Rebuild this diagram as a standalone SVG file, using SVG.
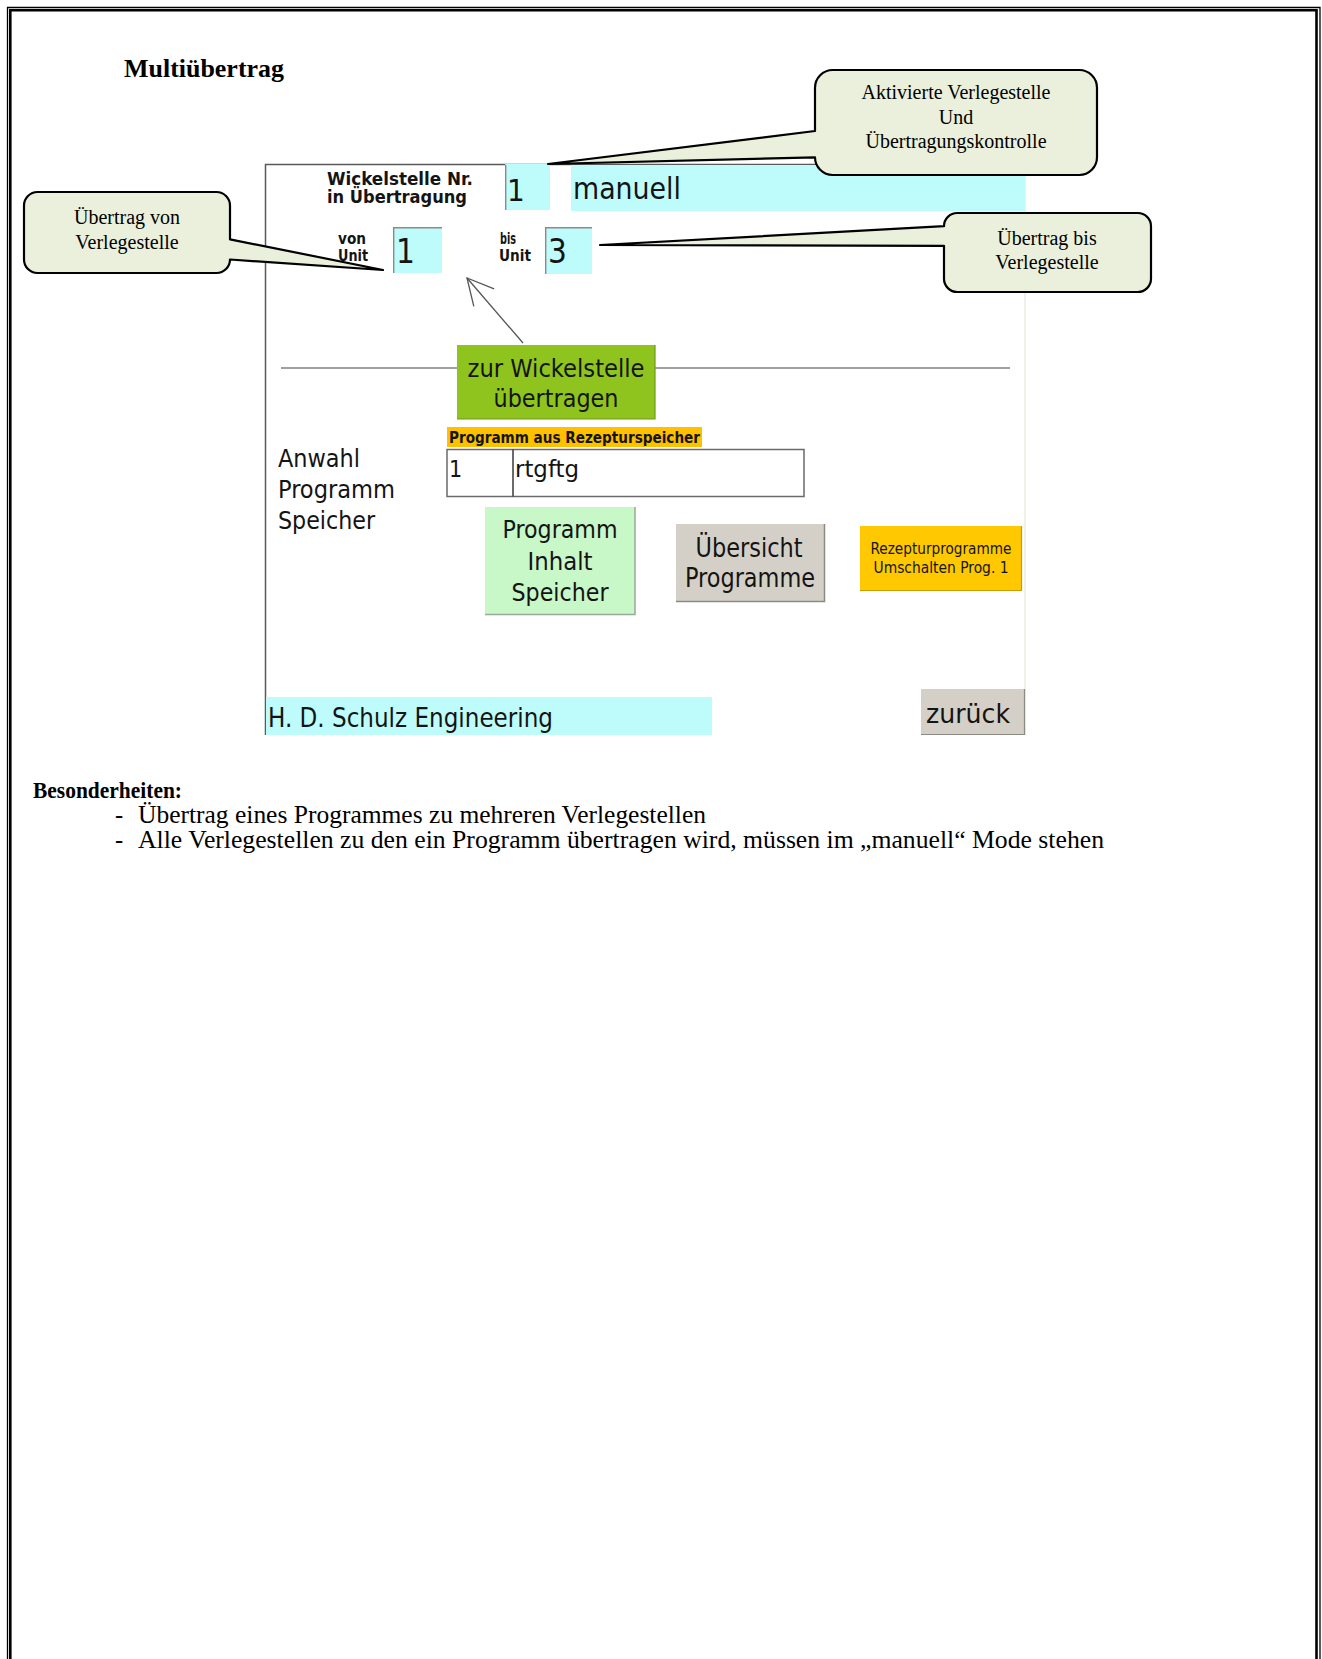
<svg xmlns="http://www.w3.org/2000/svg" width="1322" height="1659" viewBox="0 0 1322 1659">
  <defs>
    <style>
      .serif { font-family: "Liberation Serif", "Times New Roman", serif; fill: #000; }
      .hmi { font-family: "DejaVu Sans Condensed", "DejaVu Sans", Tahoma, Verdana, sans-serif; fill: #141414; }
      .b { font-weight: bold; }
      .mid { text-anchor: middle; }
      .callout { fill: #EAF0DC; stroke: #000; stroke-width: 2.2; stroke-linejoin: round; }
      .cyan { fill: #BEFCFC; }
      .inset { stroke: #8a8a8a; stroke-width: 1.4; fill: none; }
    </style>
    <!-- open V arrowhead used by the screen pointer -->
    <marker id="open-head" markerUnits="userSpaceOnUse" markerWidth="40" markerHeight="40"
            viewBox="-30 -20 40 40" refX="0" refY="0" orient="auto" overflow="visible">
      <path d="M-26,-13.4 L0,0 L-26,13.4" fill="none" stroke="#555" stroke-width="1.3"/>
    </marker>
  </defs>

  <rect width="1322" height="1659" fill="#fff"/>

  <!-- double page frame (open at the bottom) -->
  <g id="page-frame" fill="none" stroke="#000">
    <path d="M7.5,1659 V7.5 H1320 V1659" stroke-width="1.3"/>
    <path d="M10.3,1659 V10.3 H1316.5 V1659" stroke-width="2.6"/>
  </g>

  <text id="title" class="serif b" x="124" y="77" font-size="25" textLength="160" lengthAdjust="spacingAndGlyphs">Multiübertrag</text>

  <!-- operator panel screenshot -->
  <g id="panel">
    <rect x="265" y="164" width="760" height="571" fill="#fff"/>
    <path d="M265.5,735 V164.5 H1025" fill="none" stroke="#5a5a5a" stroke-width="1.5"/>
    <path d="M1025,164.5 V735" fill="none" stroke="#e6e4da" stroke-width="1.2"/>

    <g id="unit-in-transfer">
      <text class="hmi b" x="327" y="185" font-size="18" textLength="146" lengthAdjust="spacingAndGlyphs">Wickelstelle Nr.</text>
      <text class="hmi b" x="327" y="203" font-size="18" textLength="140" lengthAdjust="spacingAndGlyphs">in Übertragung</text>
      <rect class="cyan" x="505" y="164" width="45" height="46"/>
      <path class="inset" d="M505.7,210 V164.7"/>
      <text class="hmi" x="507" y="201" font-size="31">1</text>
    </g>

    <g id="mode-field">
      <rect class="cyan" x="571" y="165" width="454" height="46"/>
      <text class="hmi" x="573" y="199" font-size="31" textLength="108" lengthAdjust="spacingAndGlyphs">manuell</text>
    </g>

    <g id="from-unit">
      <text class="hmi b" x="338" y="244" font-size="15.5" textLength="28" lengthAdjust="spacingAndGlyphs">von</text>
      <text class="hmi b" x="338" y="261" font-size="15.5" textLength="30" lengthAdjust="spacingAndGlyphs">Unit</text>
      <rect class="cyan" x="393" y="227" width="49" height="46"/>
      <path class="inset" d="M393.7,273 V227.7 H442"/>
      <text class="hmi" x="396" y="263" font-size="33">1</text>
    </g>

    <g id="to-unit">
      <text class="hmi b" x="500" y="244" font-size="15.5" textLength="16" lengthAdjust="spacingAndGlyphs">bis</text>
      <text class="hmi b" x="499" y="261" font-size="15.5" textLength="32" lengthAdjust="spacingAndGlyphs">Unit</text>
      <rect class="cyan" x="545" y="227" width="47" height="47"/>
      <path class="inset" d="M545.7,274 V227.7 H592"/>
      <text class="hmi" x="548" y="263" font-size="33">3</text>
    </g>

    <!-- separator line broken by the transfer button -->
    <path d="M281,368 H457 M655,368 H1010" stroke="#a0a0a0" stroke-width="2"/>

    <g id="btn-transfer">
      <rect x="457" y="345" width="198" height="74" fill="#8FC41E"/>
      <path d="M457,419 H655 V345" fill="none" stroke="#6f9a14" stroke-width="1.2"/>
      <text class="hmi mid" x="556" y="377" font-size="24" fill="#142000" textLength="177" lengthAdjust="spacingAndGlyphs">zur Wickelstelle</text>
      <text class="hmi mid" x="556" y="407" font-size="24" fill="#142000" textLength="125" lengthAdjust="spacingAndGlyphs">übertragen</text>
    </g>

    <g id="recipe-select">
      <rect x="447" y="427" width="255" height="20" fill="#FFC000"/>
      <text class="hmi b" x="449" y="443" font-size="15" textLength="251" lengthAdjust="spacingAndGlyphs">Programm aus Rezepturspeicher</text>
      <rect x="447" y="449.5" width="357" height="47" fill="#fff" stroke="#6a6a6a" stroke-width="1.5"/>
      <path d="M513,449.5 V496.5" stroke="#3a3a3a" stroke-width="1.5"/>
      <text class="hmi" x="449" y="477" font-size="23">1</text>
      <text class="hmi" x="515" y="477" font-size="23" textLength="64" lengthAdjust="spacingAndGlyphs">rtgftg</text>
    </g>

    <g id="memory-label">
      <text class="hmi" x="278" y="467" font-size="25" textLength="82" lengthAdjust="spacingAndGlyphs">Anwahl</text>
      <text class="hmi" x="278" y="498" font-size="25" textLength="117" lengthAdjust="spacingAndGlyphs">Programm</text>
      <text class="hmi" x="278" y="529" font-size="25" textLength="97" lengthAdjust="spacingAndGlyphs">Speicher</text>
    </g>

    <g id="btn-content">
      <rect x="485" y="507" width="150" height="108" fill="#C8F7C8"/>
      <path d="M485,614.5 H635 V507" fill="none" stroke="#9aa89a" stroke-width="1.5"/>
      <text class="hmi mid" x="560" y="538" font-size="25" textLength="115" lengthAdjust="spacingAndGlyphs">Programm</text>
      <text class="hmi mid" x="560" y="570" font-size="25" textLength="65" lengthAdjust="spacingAndGlyphs">Inhalt</text>
      <text class="hmi mid" x="560" y="601" font-size="25" textLength="97" lengthAdjust="spacingAndGlyphs">Speicher</text>
    </g>

    <g id="btn-overview">
      <rect x="676" y="524" width="149" height="78" fill="#D4D0C8"/>
      <path d="M676,601.5 H824.5 V524" fill="none" stroke="#8d8a84" stroke-width="1.5"/>
      <text class="hmi mid" x="749" y="557" font-size="26" textLength="107" lengthAdjust="spacingAndGlyphs">Übersicht</text>
      <text class="hmi mid" x="750" y="587" font-size="26" textLength="130" lengthAdjust="spacingAndGlyphs">Programme</text>
    </g>

    <g id="btn-recipe-switch">
      <rect x="860" y="526" width="162" height="65" fill="#FFC800"/>
      <path d="M860,590.5 H1021.5 V526" fill="none" stroke="#c99d00" stroke-width="1.2"/>
      <text class="hmi mid" x="941" y="554" font-size="15.5" textLength="141" lengthAdjust="spacingAndGlyphs">Rezepturprogramme</text>
      <text class="hmi mid" x="941" y="573" font-size="15.5" textLength="135" lengthAdjust="spacingAndGlyphs">Umschalten Prog. 1</text>
    </g>

    <g id="footer">
      <rect class="cyan" x="266" y="697" width="446" height="38"/>
      <text class="hmi" x="268" y="727" font-size="27" textLength="285" lengthAdjust="spacingAndGlyphs">H. D. Schulz Engineering</text>
    </g>

    <g id="btn-back">
      <rect x="921" y="689" width="104" height="46" fill="#D4D0C8"/>
      <path d="M921,734.5 H1024.5 V689" fill="none" stroke="#8d8a84" stroke-width="1.2"/>
      <text class="hmi" x="926" y="723" font-size="27" textLength="84" lengthAdjust="spacingAndGlyphs">zurück</text>
    </g>
  </g>

  <!-- pointer inside the panel: transfer button to the source unit -->
  <g id="connectors">
    <path d="M523,343 L467,278" fill="none" stroke="#555" stroke-width="1.3" marker-end="url(#open-head)"/>
  </g>

  <!-- annotation callouts -->
  <g id="callout-from">
    <path class="callout" d="M37.5,192 H216.5 A13.5,13.5 0 0 1 230,205.5 V239.3 L383,270 L230,259.5 A13.5,13.5 0 0 1 216.5,273 H37.5 A13.5,13.5 0 0 1 24,259.5 V205.5 A13.5,13.5 0 0 1 37.5,192 Z"/>
    <text class="serif mid" x="127" y="224" font-size="20">Übertrag von</text>
    <text class="serif mid" x="127" y="249" font-size="20">Verlegestelle</text>
  </g>

  <g id="callout-active">
    <path class="callout" d="M832.7,70 H1079.3 A17.7,17.7 0 0 1 1097,87.7 V157.3 A17.7,17.7 0 0 1 1079.3,175 H832.7 A17.7,17.7 0 0 1 815,157.3 L548,164 L815,131 V87.7 A17.7,17.7 0 0 1 832.7,70 Z"/>
    <text class="serif mid" x="956" y="99" font-size="20">Aktivierte Verlegestelle</text>
    <text class="serif mid" x="956" y="124" font-size="20">Und</text>
    <text class="serif mid" x="956" y="148" font-size="20">Übertragungskontrolle</text>
  </g>

  <g id="callout-to">
    <path class="callout" d="M957.2,213 H1137.8 A13.2,13.2 0 0 1 1151,226.2 V278.8 A13.2,13.2 0 0 1 1137.8,292 H957.2 A13.2,13.2 0 0 1 944,278.8 V245.9 L600,245 L944,226.2 A13.2,13.2 0 0 1 957.2,213 Z"/>
    <text class="serif mid" x="1047" y="245" font-size="20">Übertrag bis</text>
    <text class="serif mid" x="1047" y="269" font-size="20">Verlegestelle</text>
  </g>

  <!-- notes below the screenshot -->
  <g id="notes">
    <text class="serif b" x="33" y="798" font-size="23" textLength="149" lengthAdjust="spacingAndGlyphs">Besonderheiten:</text>
    <text class="serif" x="115" y="823" font-size="24.5">-</text>
    <text class="serif" x="138" y="823" font-size="24.5" textLength="568" lengthAdjust="spacingAndGlyphs">Übertrag eines Programmes zu mehreren Verlegestellen</text>
    <text class="serif" x="115" y="848" font-size="24.5">-</text>
    <text class="serif" x="138" y="848" font-size="24.5" textLength="966" lengthAdjust="spacingAndGlyphs">Alle Verlegestellen zu den ein Programm übertragen wird, müssen im „manuell“ Mode stehen</text>
  </g>
</svg>
